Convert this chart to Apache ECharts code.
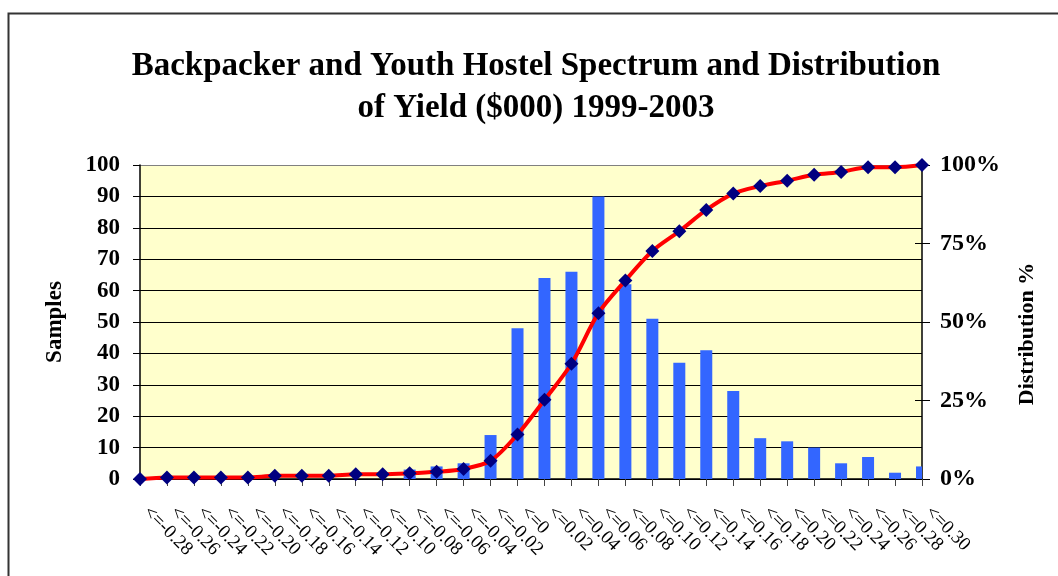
<!DOCTYPE html>
<html>
<head>
<meta charset="utf-8">
<script src="https://cdn.jsdelivr.net/npm/echarts@6/dist/echarts.min.js"></script>
<style>
  html, body { margin: 0; padding: 0; background: #fff; }
  #chart { width: 1058px; height: 576px; }
</style>
</head>
<body>
<div id="chart"></div>
<script>
const categories = [
  "<=-0.28", "<=-0.26", "<=-0.24", "<=-0.22", "<=-0.20", "<=-0.18", "<=-0.16", "<=-0.14",
  "<=-0.12", "<=-0.10", "<=-0.08", "<=-0.06", "<=-0.04", "<=-0.02", "<=0", "<=0.02",
  "<=0.04", "<=0.06", "<=0.08", "<=0.10", "<=0.12", "<=0.14", "<=0.16", "<=0.18",
  "<=0.20", "<=0.22", "<=0.24", "<=0.26", "<=0.28", "<=0.30"
];
const samples = [
  0, 0, 0, 0, 0, 0, 0, 0, 0, 0,
  3, 4, 5, 14, 48, 64, 66, 90, 62, 51,
  37, 41, 28, 13, 12, 10, 5, 7, 2, 4
];
// cumulative distribution, percent
const distribution = [
  0, 0.5, 0.5, 0.5, 0.5, 1.0, 1.0, 1.0, 1.5, 1.5,
  1.8, 2.3, 3.2, 5.8, 14.2, 25.2, 36.7, 52.8, 63.2, 72.6,
  78.9, 85.7, 90.9, 93.3, 95.0, 96.9, 97.8, 99.3, 99.3, 100
];

const serif = "'Liberation Serif', 'Times New Roman', serif";
const chart = echarts.init(document.getElementById("chart"), null, { renderer: "canvas" });

// gridline colours, top one gray like the plot frame
const gridColors = [];
for (let i = 0; i < 10; i++) gridColors.push("#000");
gridColors.push("#808080");

// bars sit on the ticks, so the outer ones get cut at the plot edge
function renderBar(params, api) {
  const base = api.coord([api.value(0), 0]);
  const top = api.coord([api.value(0), api.value(1)]);
  const w = 12;
  const cs = params.coordSys;
  const rect = echarts.graphic.clipRectByRect(
    { x: top[0] - w / 2, y: top[1], width: w, height: base[1] - top[1] },
    { x: cs.x, y: cs.y, width: cs.width, height: cs.height }
  );
  if (!rect) return;
  return { type: "rect", shape: rect, style: { fill: "#3366FF" } };
}

const option = {
  animation: false,
  backgroundColor: "#fff",
  graphic: [{
    type: "rect",
    left: 6, top: 11,
    shape: { width: 1100, height: 620 },
    style: { fill: "none", stroke: "#333", lineWidth: 2 },
    silent: true
  }],
  title: {
    text: "Backpacker and Youth Hostel Spectrum and Distribution\nof Yield ($000) 1999-2003",
    left: 531,
    textAlign: "center",
    top: 40,
    textStyle: {
      fontFamily: serif, fontWeight: "bold", fontSize: 33,
      lineHeight: 42, color: "#000"
    }
  },
  grid: {
    left: 140, right: 136, top: 165, bottom: 97,
    show: true, backgroundColor: "#FFFFCC", borderWidth: 0
  },
  xAxis: {
    type: "category",
    data: categories,
    boundaryGap: false,
    axisLine: { lineStyle: { color: "#000", width: 1.5 } },
    axisTick: { show: true, length: 7, lineStyle: { color: "#444" } },
    axisLabel: {
      interval: 0,
      rotate: -45,
      margin: 24,
      padding: [0, 0, 0, 9],
      fontFamily: serif, fontSize: 19, color: "#000"
    },
    splitLine: { show: false }
  },
  yAxis: [
    {
      type: "value",
      min: 0, max: 100, interval: 10,
      name: "Samples",
      nameLocation: "middle",
      nameRotate: 90,
      nameGap: 73,
      nameTextStyle: { fontFamily: serif, fontWeight: "bold", fontSize: 23, color: "#000" },
      axisLine: { show: true, lineStyle: { color: "#000", width: 1.5 } },
      axisTick: { show: true, length: 7, lineStyle: { color: "#000" } },
      axisLabel: { margin: 20, fontFamily: serif, fontWeight: "bold", fontSize: 23, color: "#000" },
      splitLine: { show: true, lineStyle: { color: gridColors, width: 1 } }
    },
    {
      type: "value",
      position: "right",
      min: 0, max: 100, interval: 25,
      name: "Distribution %",
      nameLocation: "middle",
      nameRotate: 90,
      nameGap: 94,
      nameTextStyle: {
        fontFamily: serif, fontWeight: "bold", fontSize: 22, color: "#000",
        padding: [0, 24, 0, 0]
      },
      axisLine: { show: true, lineStyle: { color: "#000", width: 1.5 } },
      axisTick: { show: true, length: 8, lineStyle: { color: "#000" } },
      axisLabel: {
        margin: 18, formatter: "{value}%",
        fontFamily: serif, fontWeight: "bold", fontSize: 24, color: "#000"
      },
      splitLine: { show: false }
    },
    {
      // inner half of the cross ticks on the right axis
      type: "value",
      position: "right",
      min: 0, max: 100, interval: 25,
      axisLine: { show: false },
      axisTick: { show: true, inside: true, length: 7, lineStyle: { color: "#000" } },
      axisLabel: { show: false },
      splitLine: { show: false }
    }
  ],
  series: [
    {
      name: "Samples",
      type: "custom",
      renderItem: renderBar,
      data: samples.map((v, i) => [i, v]),
      encode: { x: 0, y: 1 },
      yAxisIndex: 0,
      z: 2
    },
    {
      name: "Distribution %",
      type: "line",
      data: distribution,
      yAxisIndex: 1,
      smooth: 0.3,
      symbol: "diamond",
      symbolSize: 14,
      lineStyle: { color: "#FF0000", width: 4 },
      itemStyle: { color: "#000080" },
      z: 3
    }
  ]
};

option && chart.setOption(option);
</script>
</body>
</html>
